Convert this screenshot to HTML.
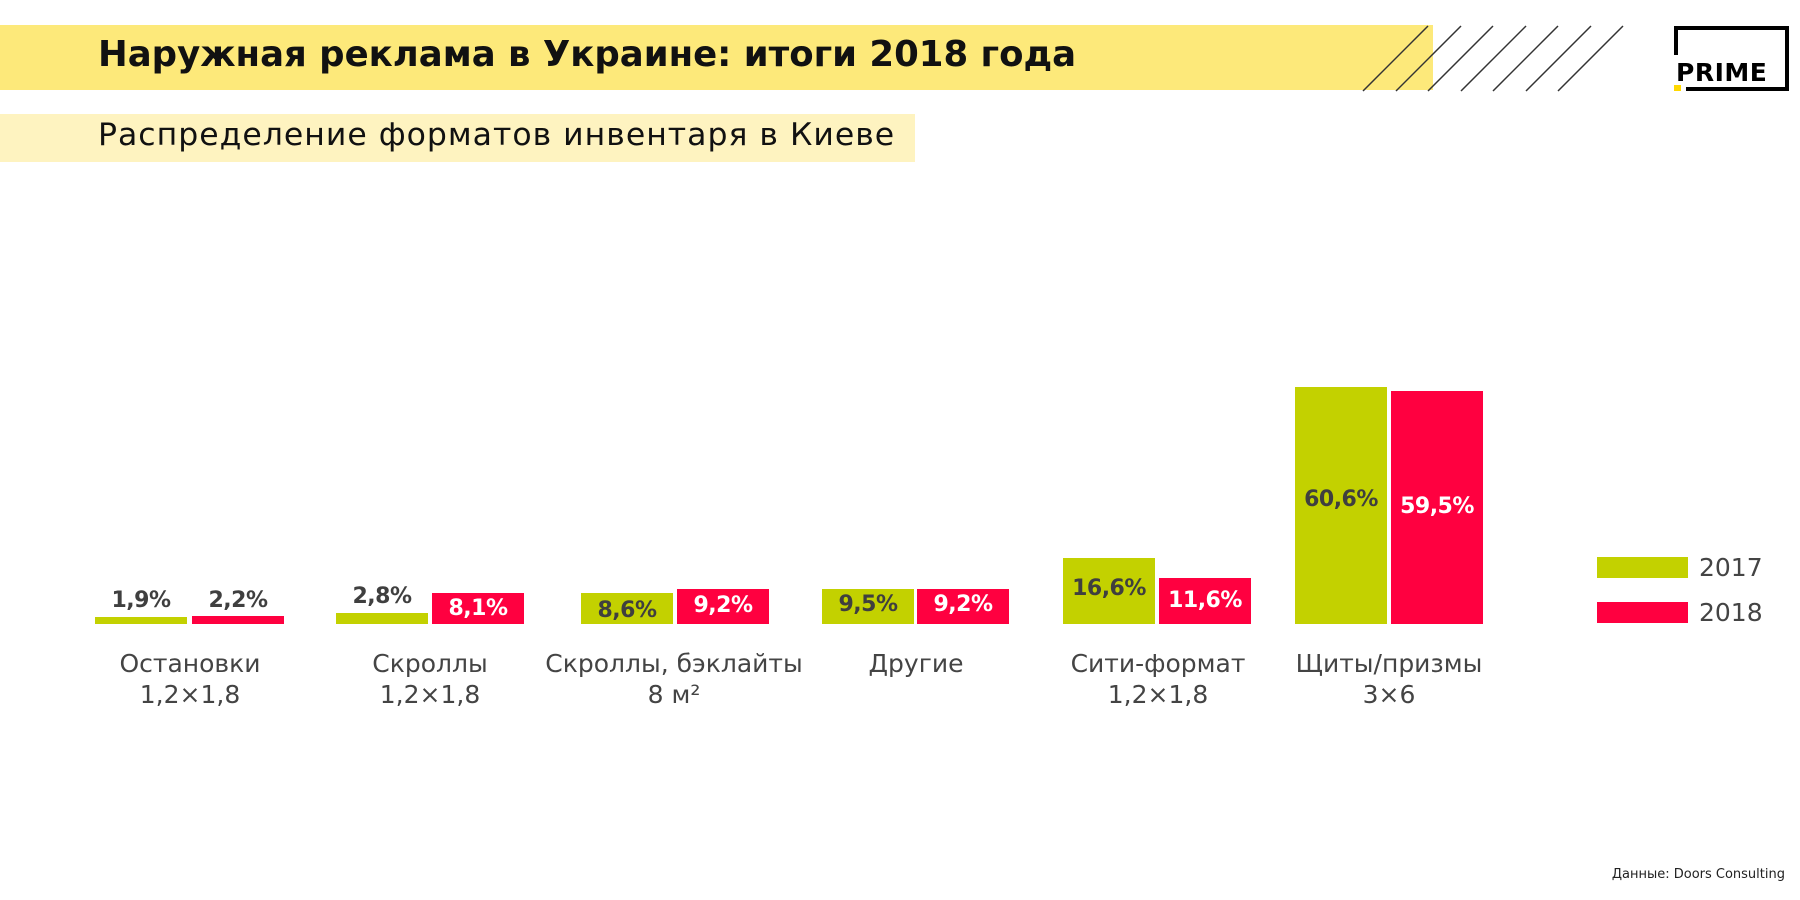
<!DOCTYPE html>
<html><head><meta charset="utf-8"><style>
body{margin:0;width:1800px;height:900px;background:#fff;position:relative;overflow:hidden;font-family:"DejaVu Sans","Liberation Sans",sans-serif;color:#3a3a3a}
.a{position:absolute}
.g{background:#c3d100}.r{background:#ff0040}
.bar{position:absolute;width:92px}
.v{position:absolute;width:92px;text-align:center;font-weight:bold;font-size:22px;letter-spacing:-0.5px;color:#3f3f3f}
.w{color:#fff}
.cat{position:absolute;width:300px;text-align:center;font-size:25px;line-height:31px;color:#444}
</style></head><body>
<div class="a" style="left:0;top:25px;width:1433px;height:65px;background:#fde97a"></div>
<div class="a" style="left:98px;top:34px;font-size:35.5px;font-weight:bold;color:#111;letter-spacing:0px">Наружная реклама в Украине: итоги 2018 года</div>
<svg class="a" style="left:0;top:0" width="1800" height="100">
<g stroke="#333" stroke-width="1.5">
<line x1="1363" y1="91" x2="1428" y2="26"/><line x1="1396" y1="91" x2="1461" y2="26"/><line x1="1428" y1="91" x2="1493" y2="26"/><line x1="1461" y1="91" x2="1526" y2="26"/><line x1="1493" y1="91" x2="1558" y2="26"/><line x1="1526" y1="91" x2="1591" y2="26"/><line x1="1558" y1="91" x2="1623" y2="26"/>
</g>
<g fill="#000"><rect x="1674" y="26" width="115" height="4"/><rect x="1674" y="26" width="4" height="29"/><rect x="1785" y="26" width="4" height="65"/><rect x="1686" y="87" width="103" height="4"/></g>
<rect x="1674" y="85" width="7" height="6" fill="#ffd800"/>
<text x="1676" y="81" font-family="DejaVu Sans" font-weight="bold" font-size="25" fill="#000" letter-spacing="0.5">PRIME</text>
</svg>
<div class="a" style="left:0;top:114px;width:915px;height:48px;background:#fef3c0"></div>
<div class="a" style="left:98px;top:117px;font-size:31.5px;color:#111;letter-spacing:1px">Распределение форматов инвентаря в Киеве</div>

<div class="bar g" style="left:95px;top:617px;height:7px"></div>
<div class="bar r" style="left:192px;top:616px;height:8px"></div>
<div class="v" style="left:95px;top:588px">1,9%</div>
<div class="v" style="left:192px;top:588px">2,2%</div>

<div class="bar g" style="left:336px;top:613px;height:11px"></div>
<div class="bar r" style="left:432px;top:593px;height:31px"></div>
<div class="v" style="left:336px;top:584px">2,8%</div>
<div class="v w" style="left:432px;top:596px">8,1%</div>

<div class="bar g" style="left:581px;top:593px;height:31px"></div>
<div class="bar r" style="left:677px;top:589px;height:35px"></div>
<div class="v" style="left:581px;top:598px">8,6%</div>
<div class="v w" style="left:677px;top:593px">9,2%</div>

<div class="bar g" style="left:822px;top:589px;height:35px"></div>
<div class="bar r" style="left:917px;top:589px;height:35px"></div>
<div class="v" style="left:822px;top:592px">9,5%</div>
<div class="v w" style="left:917px;top:592px">9,2%</div>

<div class="bar g" style="left:1063px;top:558px;height:66px"></div>
<div class="bar r" style="left:1159px;top:578px;height:46px"></div>
<div class="v" style="left:1063px;top:576px">16,6%</div>
<div class="v w" style="left:1159px;top:588px">11,6%</div>

<div class="bar g" style="left:1295px;top:387px;height:237px"></div>
<div class="bar r" style="left:1391px;top:391px;height:233px"></div>
<div class="v" style="left:1295px;top:487px">60,6%</div>
<div class="v w" style="left:1391px;top:494px">59,5%</div>

<div class="cat" style="left:40px;top:648px">Остановки<br>1,2×1,8</div>
<div class="cat" style="left:280px;top:648px">Скроллы<br>1,2×1,8</div>
<div class="cat" style="left:524px;top:648px">Скроллы, бэклайты<br>8 м²</div>
<div class="cat" style="left:766px;top:648px">Другие</div>
<div class="cat" style="left:1008px;top:648px">Сити-формат<br>1,2×1,8</div>
<div class="cat" style="left:1239px;top:648px">Щиты/призмы<br>3×6</div>

<div class="a g" style="left:1597px;top:557px;width:91px;height:21px"></div>
<div class="a r" style="left:1597px;top:602px;width:91px;height:21px"></div>
<div class="a" style="left:1699px;top:553px;font-size:25px;color:#444">2017</div>
<div class="a" style="left:1699px;top:598px;font-size:25px;color:#444">2018</div>

<div class="a" style="right:15px;top:867px;font-size:13px;color:#222">Данные: Doors Consulting</div>
</body></html>
